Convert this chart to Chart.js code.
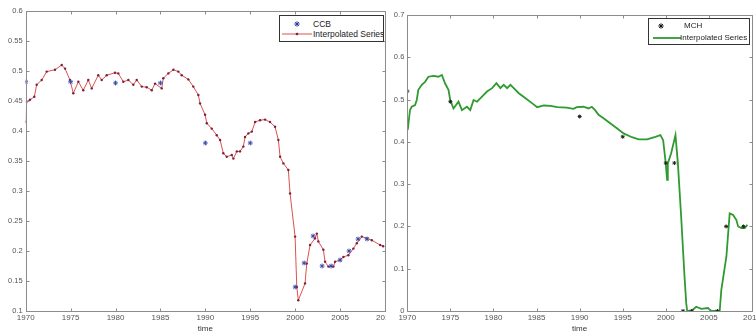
<!DOCTYPE html>
<html><head><meta charset="utf-8">
<script src="https://cdn.jsdelivr.net/npm/chart.js@4.4.1/dist/chart.umd.min.js"></script>
<style>
html,body{margin:0;padding:0;background:#fff;overflow:hidden;width:756px;height:334px;}
#wrap{position:relative;width:756px;height:334px;overflow:hidden;background:#fff;}
canvas{position:absolute;top:0;background:#fff;}
#c1{left:0;}
#c2{left:386px;}
.leg{position:absolute;border:1px solid #333;background:#fff;overflow:hidden;font-family:"Liberation Sans",Arial,sans-serif;color:#222;box-sizing:border-box;}
.leg .sym{position:absolute;}
.leg .txt{position:absolute;white-space:nowrap;line-height:10px;height:10px;}
</style>
</head><body>
<div id="wrap">
<canvas id="c1" width="400" height="334" style="width:400px;height:334px"></canvas>
<canvas id="c2" width="380" height="334" style="width:380px;height:334px"></canvas>

<div class="leg" style="left:279px;top:15px;width:105px;height:27px;font-size:8.5px;">
  <svg class="sym" style="left:14px;top:5px" width="6" height="6" viewBox="0 0 6 6"><g stroke="#2b3b9b" stroke-width="1"><line x1="3" y1="0.3" x2="3" y2="5.7"/><line x1="0.3" y1="3" x2="5.7" y2="3"/><line x1="1.1" y1="1.1" x2="4.9" y2="4.9"/><line x1="4.9" y1="1.1" x2="1.1" y2="4.9"/></g></svg>
  <span class="txt" style="left:33px;top:3px">CCB</span>
  <svg class="sym" style="left:2px;top:15px" width="30" height="6" viewBox="0 0 30 6"><line x1="0" y1="3" x2="30" y2="3" stroke="#d9534f" stroke-width="1"/><circle cx="15" cy="3" r="1.3" fill="#7d1f3f"/></svg>
  <span class="txt" style="left:33px;top:13px">Interpolated Series</span>
</div>

<div class="leg" style="left:648px;top:18px;width:102px;height:27px;font-size:8px;">
  <svg class="sym" style="left:9px;top:4px" width="6" height="6" viewBox="0 0 6 6"><g stroke="#111" stroke-width="1"><line x1="3" y1="0.3" x2="3" y2="5.7"/><line x1="0.3" y1="3" x2="5.7" y2="3"/><line x1="1.1" y1="1.1" x2="4.9" y2="4.9"/><line x1="4.9" y1="1.1" x2="1.1" y2="4.9"/></g></svg>
  <span class="txt" style="left:35px;top:2px">MCH</span>
  <svg class="sym" style="left:4px;top:16px" width="28" height="6" viewBox="0 0 28 6"><line x1="0" y1="3" x2="28" y2="3" stroke="#2f9a2f" stroke-width="1.8"/></svg>
  <span class="txt" style="left:31px;top:14px">Interpolated Series</span>
</div>
</div>

<script>
// ---------- DATA ----------
const xTickYears = [1970, 1975, 1980, 1985, 1990, 1995, 2000, 2005, 2010];
const ccbTickValues = [0.1, 0.15, 0.2, 0.25, 0.3, 0.35, 0.4, 0.45, 0.5, 0.55, 0.6];
const mchTickValues = [0, 0.1, 0.2, 0.3, 0.4, 0.5, 0.6, 0.7];

const ccbObsYears  = [1970, 1975, 1980, 1985, 1990, 1995, 2000, 2001, 2002, 2003, 2004, 2005, 2006, 2007, 2008];
const ccbObsValues = [0.482, 0.482, 0.48, 0.48, 0.38, 0.38, 0.14, 0.18, 0.225, 0.175, 0.175, 0.185, 0.2, 0.22, 0.22];

const ccbInterpYears = [1970.0, 1970.11, 1970.48, 1970.96, 1971.22, 1971.78, 1972.34, 1973.26, 1974.01, 1974.38,
  1974.93, 1975.30, 1975.86, 1976.41, 1976.97, 1977.35, 1978.08, 1978.46, 1979.02, 1979.94,
  1980.31, 1980.87, 1981.43, 1981.98, 1982.36, 1982.92, 1983.47, 1984.03, 1984.40, 1985.14,
  1985.32, 1985.88, 1986.44, 1986.99, 1987.37, 1988.11, 1988.66, 1989.22, 1989.41, 1989.97,
  1990.16, 1990.71, 1991.27, 1991.64, 1992.00, 1992.38, 1992.94, 1993.12, 1993.50, 1993.86,
  1994.23, 1994.42, 1994.79, 1995.17, 1995.54, 1996.09, 1996.65, 1997.20, 1997.76, 1998.13,
  1998.32, 1998.69, 1999.24, 1999.43, 1999.99, 2000.18, 2000.35, 2001.10, 2001.29, 2001.66,
  2002.21, 2002.41, 2002.58, 2003.14, 2003.33, 2003.70, 2004.26, 2004.44, 2005.00, 2005.37,
  2005.92, 2006.48, 2006.86, 2007.42, 2007.97, 2008.53, 2009.46, 2009.79];
const ccbInterpValues = [0.415, 0.449, 0.452, 0.457, 0.477, 0.485, 0.499, 0.502, 0.51, 0.504,
  0.485, 0.463, 0.482, 0.468, 0.485, 0.471, 0.493, 0.485, 0.493, 0.497,
  0.496, 0.482, 0.485, 0.477, 0.485, 0.474, 0.473, 0.468, 0.479, 0.471,
  0.488, 0.496, 0.502, 0.499, 0.493, 0.486, 0.474, 0.46, 0.446, 0.427,
  0.413, 0.404, 0.393, 0.385, 0.363, 0.357, 0.36, 0.354, 0.366, 0.366,
  0.374, 0.39, 0.396, 0.399, 0.415, 0.418, 0.419, 0.415, 0.407, 0.385,
  0.357, 0.346, 0.335, 0.296, 0.224, 0.14, 0.118, 0.146, 0.179, 0.21,
  0.221, 0.229, 0.216, 0.202, 0.182, 0.174, 0.174, 0.182, 0.185, 0.19,
  0.193, 0.204, 0.213, 0.224, 0.221, 0.218, 0.21, 0.208];

const mchObsYears  = [1970, 1975, 1990, 1995, 2000, 2001, 2002, 2003, 2006, 2007, 2009];
const mchObsValues = [0.52, 0.495, 0.46, 0.412, 0.35, 0.35, 0, 0, 0, 0.2, 0.2];

const mchInterpYears = [1970.05, 1970.31, 1970.51, 1970.90, 1971.10, 1971.28, 1971.68, 1972.06, 1972.45, 1973.03,
  1973.61, 1974.01, 1974.39, 1974.78, 1974.98, 1975.36, 1975.94, 1976.34, 1976.92, 1977.31,
  1977.69, 1978.09, 1978.67, 1979.25, 1979.84, 1980.34, 1980.80, 1981.19, 1981.58, 1981.97,
  1982.35, 1982.94, 1983.72, 1984.50, 1985.08, 1985.85, 1986.63, 1987.41, 1988.50, 1989.28,
  1989.66, 1990.44, 1991.03, 1991.41, 1991.79, 1992.19, 1992.77, 1993.54, 1994.32, 1995.10,
  1996.07, 1996.85, 1997.82, 1998.79, 1999.37, 1999.69, 1999.95, 2000.15, 2000.23, 2000.62,
  2001.12, 2001.40, 2001.78, 2002.17, 2002.37, 2002.48, 2002.95, 2003.53, 2004.11, 2004.89,
  2005.28, 2006.25, 2006.44, 2007.03, 2007.41, 2007.81, 2008.19, 2008.39, 2008.77, 2009.16, 2009.47];
const mchInterpValues = [0.428, 0.475, 0.483, 0.487, 0.499, 0.523, 0.535, 0.542, 0.554, 0.556,
  0.554, 0.558, 0.538, 0.523, 0.499, 0.479, 0.495, 0.475, 0.483, 0.475,
  0.499, 0.495, 0.507, 0.519, 0.527, 0.539, 0.527, 0.535, 0.527, 0.535,
  0.527, 0.515, 0.503, 0.491, 0.482, 0.486, 0.485, 0.482, 0.481, 0.478,
  0.482, 0.483, 0.479, 0.483, 0.475, 0.464, 0.456, 0.444, 0.432, 0.42,
  0.411, 0.406, 0.406, 0.412, 0.416, 0.404, 0.357, 0.31, 0.349, 0.373,
  0.416, 0.349, 0.223, 0.081, 0.018, 0, 0, 0.01, 0.005, 0.007,
  0, 0, 0.05, 0.129, 0.231, 0.227, 0.215, 0.2, 0.196, 0.196, 0.204];

// ---------- HELPERS ----------
const FONT = '"Liberation Sans", Arial, sans-serif';
function pts(xs, ys) { return xs.map((x, i) => ({ x: x, y: ys[i] })); }

const boxPlugin = {
  id: 'matlabBox',
  afterDraw(chart) {
    const ctx = chart.ctx, a = chart.chartArea, sx = chart.scales.x, sy = chart.scales.y;
    const L = Math.round(a.left) + 0.5, R = Math.round(a.right) + 0.5;
    const T = Math.round(a.top) + 0.5, B = Math.round(a.bottom) + 0.5;
    ctx.save();
    ctx.strokeStyle = '#8c8c8c';
    ctx.lineWidth = 1;
    ctx.strokeRect(L, T, R - L, B - T);
    const tl = 3;
    ctx.beginPath();
    sx.ticks.forEach(t => {
      const px = Math.round(sx.getPixelForValue(t.value)) + 0.5;
      ctx.moveTo(px, B); ctx.lineTo(px, B - tl);
      ctx.moveTo(px, T); ctx.lineTo(px, T + tl);
    });
    sy.ticks.forEach(t => {
      const py = Math.round(sy.getPixelForValue(t.value)) + 0.5;
      ctx.moveTo(L, py); ctx.lineTo(L + tl, py);
      ctx.moveTo(R, py); ctx.lineTo(R - tl, py);
    });
    ctx.stroke();
    ctx.restore();
  }
};

function makeChart(id, cfg) {
  return new Chart(document.getElementById(id), {
    type: 'line',
    data: { datasets: cfg.datasets },
    options: {
      responsive: false,
      animation: false,
      events: [],
      layout: { padding: cfg.padding },
      plugins: { legend: { display: false }, tooltip: { enabled: false } },
      scales: {
        x: {
          type: 'linear', min: 1970, max: 2010,
          afterBuildTicks: s => { s.ticks = xTickYears.map(v => ({ value: v })); },
          afterFit: s => { s.height = 23; },
          grid: { display: false, drawTicks: false },
          border: { display: false },
          ticks: { callback: v => String(v), font: { family: FONT, size: 8 }, color: '#555', padding: 2, maxRotation: 0, autoSkip: false },
          title: { display: true, text: 'time', font: { family: FONT, size: 8 }, color: '#333', padding: { top: 0, bottom: 0 } }
        },
        y: {
          type: 'linear', min: cfg.ymin, max: cfg.ymax,
          afterBuildTicks: s => { s.ticks = cfg.yticks.map(v => ({ value: v })); },
          afterFit: s => { s.width = cfg.yWidth; },
          grid: { display: false, drawTicks: false },
          border: { display: false },
          ticks: { callback: v => String(v), font: { family: FONT, size: 7.5 }, color: '#555', padding: 3, autoSkip: false }
        }
      }
    },
    plugins: [boxPlugin]
  });
}

makeChart('c1', {
  padding: { left: 0, top: 11, right: 15, bottom: 0 },
  yWidth: 25.7, ymin: 0.1, ymax: 0.6, yticks: ccbTickValues,
  datasets: [
    { label: 'CCB', data: pts(ccbObsYears, ccbObsValues), showLine: false,
      pointStyle: 'star', pointRadius: 2.4, pointBorderColor: '#3a4aa8', pointBorderWidth: 1, borderColor: '#3a4aa8', order: 0 },
    { label: 'Interpolated Series', data: pts(ccbInterpYears, ccbInterpValues), borderColor: '#d9534f', borderWidth: 1,
      tension: 0, pointRadius: 1.2, pointBackgroundColor: '#7d1f3f', pointBorderWidth: 0, order: 1 }
  ]
});

makeChart('c2', {
  padding: { left: 0, top: 15, right: 14, bottom: 0 },
  yWidth: 21.3, ymin: 0, ymax: 0.7, yticks: mchTickValues,
  datasets: [
    { label: 'MCH', data: pts(mchObsYears, mchObsValues), showLine: false,
      pointStyle: 'star', pointRadius: 2, pointBorderColor: '#222', pointBorderWidth: 1, borderColor: '#222', order: 0 },
    { label: 'Interpolated Series', data: pts(mchInterpYears, mchInterpValues), borderColor: '#2f9a2f', borderWidth: 1.8,
      tension: 0, pointRadius: 0, order: 1 }
  ]
});
</script>
</body></html>
